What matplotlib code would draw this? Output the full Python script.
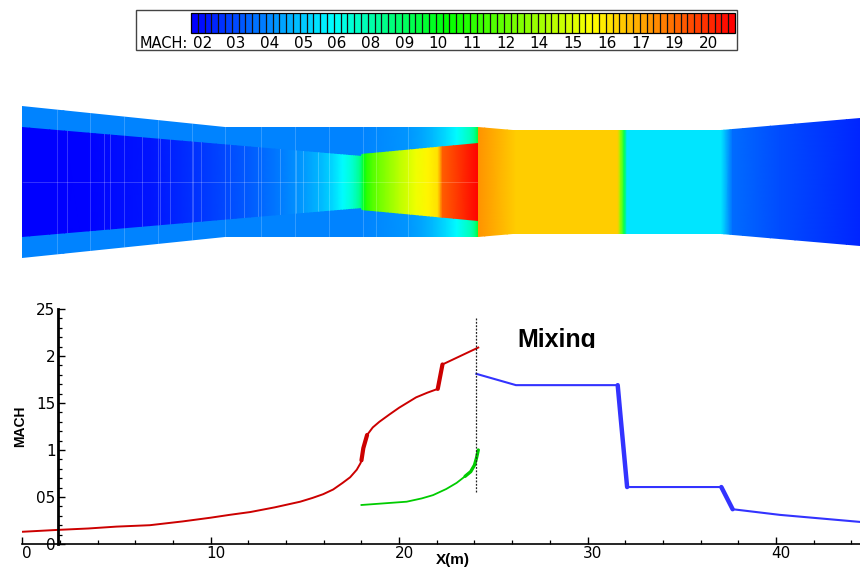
import numpy as np
import matplotlib
matplotlib.use('Agg')
import matplotlib.pyplot as plt
from matplotlib.colors import LinearSegmentedColormap, Normalize, BoundaryNorm
from matplotlib.patches import Polygon, Rectangle
from matplotlib.transforms import ScaledTranslation
from matplotlib.ticker import MultipleLocator

# mach along the duct

red_x = [0, 1.87, 3.5, 5, 6.77, 8.5, 10, 11, 12.1, 13.4, 14.75, 15.4, 15.97, 16.5, 17.0, 17.4, 17.75, 17.95, 18.0, 18.1, 18.3, 18.6, 18.95, 19.5, 20, 20.9, 21.5, 22.05, 22.3, 24.2]
red_mach = [0.13, 0.15, 0.165, 0.185, 0.20, 0.24, 0.28, 0.31, 0.34, 0.39, 0.45, 0.49, 0.53, 0.58, 0.65, 0.71, 0.79, 0.86, 0.89, 1.02, 1.16, 1.24, 1.30, 1.38, 1.45, 1.56, 1.61, 1.65, 1.91, 2.09]

green_x = [18.0, 20.4, 21.2, 21.8, 22.5, 23.05, 23.5, 23.8, 24.0, 24.1, 24.2]
green_mach = [0.415, 0.45, 0.485, 0.52, 0.585, 0.65, 0.72, 0.77, 0.84, 0.91, 1.0]

blue_x = [24.1, 26.2, 31.6, 31.75, 31.95, 32.1, 37.1, 37.7, 40.2, 44.46]
blue_mach = [1.81, 1.69, 1.69, 1.36, 0.93, 0.606, 0.606, 0.37, 0.31, 0.235]

# duct walls, half heights in metres

outer_x = [0, 10.75, 24.18, 26.05, 37.1, 44.46]
outer_h = [4.03, 2.92, 2.92, 2.76, 2.76, 3.40]
primary_x = [0, 18.0, 18.03, 24.18]
primary_h = [2.92, 1.38, 1.49, 2.07]

# faint mesh lines in the field

primary_lines = [2.37, 4.33, 4.65, 6.35, 7.3, 7.84, 9.05, 9.48, 11.0, 11.76, 12.5, 13.67, 14.5, 14.9, 15.7]
outer_lines = [1.84, 3.6, 5.4, 7.2, 9.0, 10.75, 12.66, 14.47, 16.3, 18.07, 18.76, 20.46]

# colour bar

bar_ticks = [0.2, 0.32, 0.44, 0.56, 0.68, 0.8, 0.92, 1.04, 1.16, 1.28, 1.4, 1.52, 1.64, 1.76, 1.88, 2.0]
bar_labels = ['02', '03', '04', '05', '06', '08', '09', '10', '11', '12', '14', '15', '16', '17', '19', '20']

x_ticks = [0, 10, 20, 30, 40]
x_labels = ['0', '10', '20', '30', '40']
y_ticks = [0, 0.5, 1, 1.5, 2, 2.5]
y_labels = ['0', '05', '1', '15', '2', '25']

W, H = 860, 568
FONT = 'DejaVu Sans'

def axes_px(fig, left, top, right, bottom):
    return fig.add_axes([left / W, 1 - bottom / H, (right - left) / W, (bottom - top) / H])

def shade(ax, x, mach, wall_x, wall_h):
    # smooth colour along x, cut to the shape of the wall
    outline = list(zip(wall_x, wall_h)) + list(zip(wall_x[::-1], [-h for h in wall_h[::-1]]))
    clip = Polygon(outline, transform=ax.transData)
    m = ax.pcolormesh(x, [-5, 5], [mach, mach], shading='gouraud', cmap=cmap, norm=norm)
    m.set_clip_path(clip)
    return clip

def curve(ax, x, y, color, lw, thick, thick_lw):
    # the steep parts come out heavier in the original
    ax.plot(x, y, color=color, lw=lw, solid_joinstyle='round')
    x = np.array(x)
    y = np.array(y)
    for a, b in thick:
        keep = (x >= a) & (x <= b)
        ax.plot(x[keep], y[keep], color=color, lw=thick_lw, solid_capstyle='round')

cmap = LinearSegmentedColormap.from_list('mach', [(0, '#0000ff'), (0.255, '#00ffff'), (0.47, '#00ff00'), (0.74, '#ffff00'), (1, '#ff0000')], N=512)
norm = Normalize(0.16, 2.096)

fig = plt.figure(figsize=(W / 100, H / 100), dpi=100)

# legend box

fig.add_artist(Rectangle((136 / W, 1 - 50 / H), 601 / W, 40 / H, transform=fig.transFigure, fc='white', ec='#444444', lw=1, zorder=-1))
cax = axes_px(fig, 191, 13, 735, 33)
levels = np.linspace(0.16, 2.096, 81)
cb = fig.colorbar(plt.cm.ScalarMappable(norm=BoundaryNorm(levels, 512), cmap=cmap), cax=cax, orientation='horizontal', drawedges=True)
cb.dividers.set_color('#111111')
cb.dividers.set_linewidth(0.9)
cb.outline.set_linewidth(0.9)
cb.minorticks_off()
cb.set_ticks(bar_ticks, labels=bar_labels)
cax.tick_params(length=0, pad=2, labelsize=11)
fig.text(140 / W, 1 - 43 / H, 'MACH:', fontsize=10.5, family=FONT, va='center', ha='left')

# contour field

ax = axes_px(fig, 22.3, 95, 860, 270)
ax.set_xlim(0, 44.46)
ax.set_ylim(-4.668, 4.615)
ax.axis('off')

clip = shade(ax, [0] + green_x, green_mach[:1] + green_mach, outer_x[:3], outer_h[:3])
v = ax.vlines(outer_lines, -5, 5, color='white', alpha=0.2, lw=0.7)
v.set_clip_path(clip)
shade(ax, blue_x, blue_mach, outer_x[2:], outer_h[2:])
clip = shade(ax, red_x, red_mach, primary_x, primary_h)
v = ax.vlines(primary_lines, -5, 5, color='white', alpha=0.22, lw=0.7)
v.set_clip_path(clip)
h = ax.hlines(0, 0, 24.18, color='white', alpha=0.2, lw=0.7)
h.set_clip_path(clip)

# mach plot

ax2 = axes_px(fig, 22.3, 309, 860, 544)
ax2.patch.set_alpha(0)
ax2.set_xlim(0, 44.46)
ax2.set_ylim(0, 2.5)

curve(ax2, red_x, red_mach, '#cc0000', 1.4, [(18.0, 18.3), (22.05, 22.3)], 3)
curve(ax2, green_x, green_mach, '#00cc00', 1.3, [(23.5, 24.2)], 2.4)
curve(ax2, blue_x, blue_mach, '#3333ff', 1.5, [(31.6, 32.1), (37.1, 37.7)], 3.2)
ax2.plot([24.1, 24.1], [0.55, 2.41], color='#222222', lw=0.9, ls=(0, (1.5, 1.2)))

for s in ['top', 'right']:
    ax2.spines[s].set_visible(False)
ax2.spines['left'].set_position(('data', 1.87))
ax2.spines['left'].set_linewidth(2)
ax2.spines['bottom'].set_linewidth(1.2)

ax2.set_xticks(x_ticks, labels=x_labels)
ax2.set_yticks(y_ticks, labels=y_labels)
ax2.xaxis.set_minor_locator(MultipleLocator(2))
ax2.yaxis.set_minor_locator(MultipleLocator(0.1))
ax2.tick_params(axis='both', which='major', direction='in', length=5, width=1, labelsize=11, pad=1.5)
ax2.tick_params(axis='both', which='minor', direction='in', length=3, width=0.9)
offset = ScaledTranslation(5 / 100, 0, fig.dpi_scale_trans)
for t in ax2.get_xticklabels():
    t.set_transform(t.get_transform() + offset)

# axis titles

fig.text(453 / W, 1 - 560 / H, 'X(m)', fontsize=11, fontweight='bold', family='Liberation Sans', ha='center', va='center')
fig.text(20 / W, 1 - 426 / H, 'MACH', fontsize=10, fontweight='bold', family='Liberation Sans', rotation=90, ha='center', va='center')

t = fig.text(517 / W, 1 - 347 / H, 'Mixing', fontsize=18, fontweight='bold', family='Liberation Sans', ha='left', va='baseline')
t.set_clip_box(Rectangle((500, H - 348), 120, 30).get_bbox())
t.set_clip_on(True)

fig.savefig('out.png', dpi=100)
